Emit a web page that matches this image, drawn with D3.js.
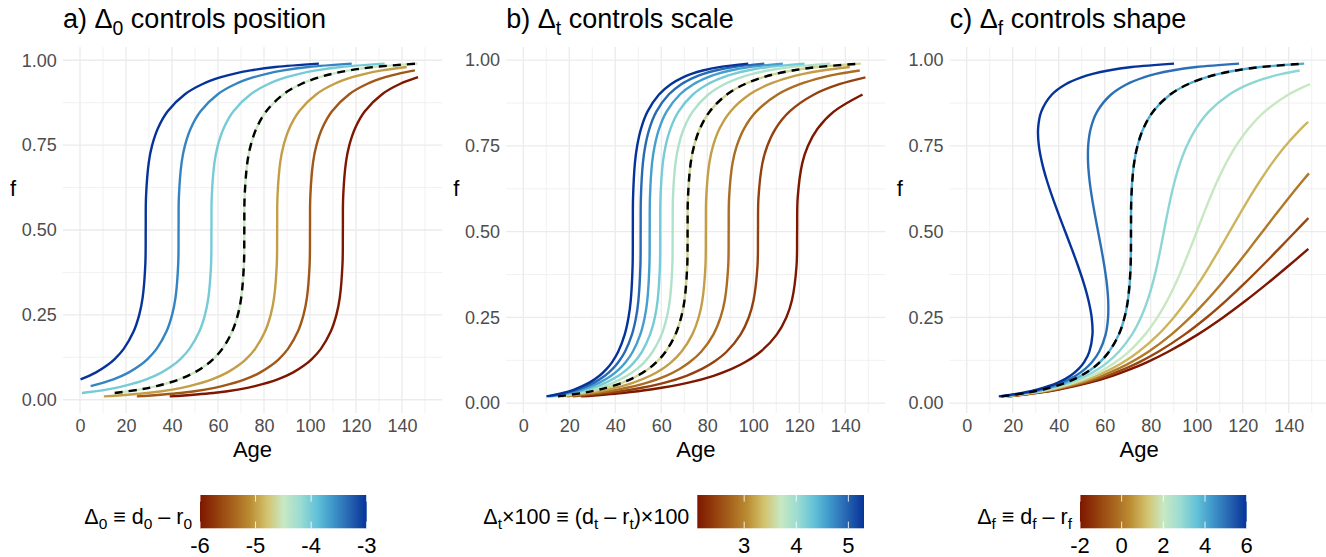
<!DOCTYPE html>
<html><head><meta charset="utf-8">
<script src="https://cdn.jsdelivr.net/npm/d3@7"></script>
<style>body{margin:0;background:#fff;} text{font-family: Arial, "Liberation Sans", sans-serif;}</style>
</head><body><svg id="c" width="1326" height="557"></svg>
<script>
// ---------------- DATA (age, f) ----------------
// Panel a: Δ0 values
const aValues = [-6, -5.5, -5, -4.5, -4, -3.5, -3];
const a_m60 = [[39.00,0.01],[57.95,0.02],[68.68,0.03],[76.06,0.04],[85.96,0.06],[92.51,0.08],[97.22,0.10],[100.79,0.12],[104.73,0.15],[108.96,0.20],[111.47,0.25],[112.94,0.30],[114.13,0.40],[114.29,0.50],[114.44,0.60],[115.64,0.70],[117.10,0.75],[119.61,0.80],[123.85,0.85],[131.35,0.90],[139.05,0.93],[146.98,0.95]];
const a_m55 = [[24.71,0.01],[43.66,0.02],[54.39,0.03],[61.77,0.04],[71.67,0.06],[78.22,0.08],[82.93,0.10],[86.50,0.12],[90.44,0.15],[94.67,0.20],[97.18,0.25],[98.65,0.30],[99.84,0.40],[100.00,0.50],[100.15,0.60],[101.35,0.70],[102.81,0.75],[105.32,0.80],[109.56,0.85],[117.06,0.90],[124.76,0.93],[132.69,0.95],[138.23,0.96],[145.60,0.97]];
const a_m50 = [[10.43,0.01],[29.38,0.02],[40.11,0.03],[47.49,0.04],[57.39,0.06],[63.94,0.08],[68.65,0.10],[72.22,0.12],[76.16,0.15],[80.39,0.20],[82.90,0.25],[84.37,0.30],[85.56,0.40],[85.72,0.50],[85.87,0.60],[87.07,0.70],[88.53,0.75],[91.04,0.80],[95.28,0.85],[102.78,0.90],[110.48,0.93],[118.41,0.95],[123.95,0.96],[131.32,0.97],[142.05,0.98]];
const a_m45 = [[15.09,0.02],[25.82,0.03],[33.20,0.04],[43.10,0.06],[49.65,0.08],[54.36,0.10],[57.93,0.12],[61.87,0.15],[66.10,0.20],[68.61,0.25],[70.08,0.30],[71.27,0.40],[71.43,0.50],[71.58,0.60],[72.78,0.70],[74.24,0.75],[76.75,0.80],[80.99,0.85],[88.49,0.90],[96.19,0.93],[104.12,0.95],[109.66,0.96],[117.03,0.97],[127.76,0.98],[146.72,0.99]];
const a_m40 = [[0.81,0.02],[11.54,0.03],[18.92,0.04],[28.82,0.06],[35.37,0.08],[40.08,0.10],[43.65,0.12],[47.59,0.15],[51.82,0.20],[54.33,0.25],[55.80,0.30],[56.99,0.40],[57.15,0.50],[57.30,0.60],[58.50,0.70],[59.96,0.75],[62.47,0.80],[66.71,0.85],[74.21,0.90],[81.91,0.93],[89.84,0.95],[95.38,0.96],[102.75,0.97],[113.48,0.98],[132.44,0.99]];
const a_m35 = [[4.63,0.04],[14.53,0.06],[21.08,0.08],[25.79,0.10],[29.36,0.12],[33.30,0.15],[37.53,0.20],[40.04,0.25],[41.51,0.30],[42.70,0.40],[42.86,0.50],[43.01,0.60],[44.21,0.70],[45.67,0.75],[48.18,0.80],[52.42,0.85],[59.92,0.90],[67.62,0.93],[75.55,0.95],[81.09,0.96],[88.46,0.97],[99.19,0.98],[118.15,0.99]];
const a_m30 = [[0.24,0.06],[6.79,0.08],[11.50,0.10],[15.07,0.12],[19.01,0.15],[23.24,0.20],[25.75,0.25],[27.22,0.30],[28.41,0.40],[28.57,0.50],[28.72,0.60],[29.92,0.70],[31.38,0.75],[33.89,0.80],[38.13,0.85],[45.63,0.90],[53.33,0.93],[61.26,0.95],[66.80,0.96],[74.17,0.97],[84.90,0.98],[103.86,0.99]];

// Reference curve (dashed) shared by all panels
const refCurve = [[15.09,0.02],[25.83,0.03],[33.20,0.04],[43.10,0.06],[49.65,0.08],[54.37,0.10],[57.93,0.12],[61.87,0.15],[66.11,0.20],[68.61,0.25],[70.08,0.30],[71.27,0.40],[71.43,0.50],[71.59,0.60],[72.78,0.70],[74.25,0.75],[76.75,0.80],[80.99,0.85],[88.49,0.90],[96.19,0.93],[104.13,0.95],[109.66,0.96],[117.03,0.97],[127.77,0.98],[146.72,0.99]];

// Panel b: Δt×100 values
const bValues = [2.1, 2.45, 2.8, 3.15, 3.5, 3.85, 4.2, 4.55, 4.9, 5.25];
const b_210 = [[25.15,0.02],[43.04,0.03],[55.33,0.04],[71.83,0.06],[82.75,0.08],[90.61,0.10],[96.55,0.12],[103.11,0.15],[110.18,0.20],[114.35,0.25],[116.80,0.30],[118.79,0.40],[119.05,0.50],[119.31,0.60],[121.30,0.70],[123.74,0.75],[127.92,0.80],[134.98,0.85],[147.49,0.90]];
const b_245 = [[21.56,0.02],[36.89,0.03],[47.42,0.04],[61.57,0.06],[70.93,0.08],[77.67,0.10],[82.76,0.12],[88.38,0.15],[94.44,0.20],[98.02,0.25],[100.11,0.30],[101.82,0.40],[102.04,0.50],[102.26,0.60],[103.97,0.70],[106.07,0.75],[109.64,0.80],[115.70,0.85],[126.42,0.90],[137.42,0.93],[148.75,0.95]];
const b_280 = [[18.86,0.02],[32.28,0.03],[41.50,0.04],[53.87,0.06],[62.06,0.08],[67.96,0.10],[72.41,0.12],[77.34,0.15],[82.63,0.20],[85.76,0.25],[87.60,0.30],[89.09,0.40],[89.29,0.50],[89.48,0.60],[90.97,0.70],[92.81,0.75],[95.94,0.80],[101.24,0.85],[110.61,0.90],[120.24,0.93],[130.16,0.95],[137.07,0.96],[146.29,0.97]];
const b_315 = [[16.77,0.02],[28.70,0.03],[36.89,0.04],[47.89,0.06],[55.17,0.08],[60.41,0.10],[64.37,0.12],[68.74,0.15],[73.45,0.20],[76.24,0.25],[77.86,0.30],[79.19,0.40],[79.37,0.50],[79.54,0.60],[80.87,0.70],[82.50,0.75],[85.28,0.80],[89.99,0.85],[98.32,0.90],[106.88,0.93],[115.70,0.95],[121.84,0.96],[130.04,0.97],[141.96,0.98]];
const b_350 = [[15.09,0.02],[25.82,0.03],[33.20,0.04],[43.10,0.06],[49.65,0.08],[54.36,0.10],[57.93,0.12],[61.87,0.15],[66.10,0.20],[68.61,0.25],[70.08,0.30],[71.27,0.40],[71.43,0.50],[71.58,0.60],[72.78,0.70],[74.24,0.75],[76.75,0.80],[80.99,0.85],[88.49,0.90],[96.19,0.93],[104.12,0.95],[109.66,0.96],[117.03,0.97],[127.76,0.98],[146.72,0.99]];
const b_385 = [[13.72,0.02],[23.48,0.03],[30.18,0.04],[39.18,0.06],[45.13,0.08],[49.42,0.10],[52.67,0.12],[56.24,0.15],[60.10,0.20],[62.37,0.25],[63.71,0.30],[64.79,0.40],[64.94,0.50],[65.08,0.60],[66.16,0.70],[67.50,0.75],[69.77,0.80],[73.63,0.85],[80.45,0.90],[87.45,0.93],[94.66,0.95],[99.69,0.96],[106.39,0.97],[116.15,0.98],[133.38,0.99]];
const b_420 = [[12.58,0.02],[21.52,0.03],[27.66,0.04],[35.92,0.06],[41.37,0.08],[45.31,0.10],[48.28,0.12],[51.56,0.15],[55.09,0.20],[57.18,0.25],[58.40,0.30],[59.39,0.40],[59.52,0.50],[59.65,0.60],[60.65,0.70],[61.87,0.75],[63.96,0.80],[67.49,0.85],[73.74,0.90],[80.16,0.93],[86.77,0.95],[91.38,0.96],[97.53,0.97],[106.47,0.98],[122.27,0.99]];
const b_455 = [[11.61,0.02],[19.87,0.03],[25.54,0.04],[33.15,0.06],[38.19,0.08],[41.82,0.10],[44.56,0.12],[47.59,0.15],[50.85,0.20],[52.78,0.25],[53.91,0.30],[54.82,0.40],[54.95,0.50],[55.07,0.60],[55.98,0.70],[57.11,0.75],[59.04,0.80],[62.30,0.85],[68.07,0.90],[73.99,0.93],[80.10,0.95],[84.35,0.96],[90.02,0.97],[98.28,0.98],[112.86,0.99]];
const b_490 = [[10.78,0.02],[18.45,0.03],[23.71,0.04],[30.79,0.06],[35.46,0.08],[38.83,0.10],[41.38,0.12],[44.19,0.15],[47.22,0.20],[49.01,0.25],[50.05,0.30],[50.91,0.40],[51.02,0.50],[51.13,0.60],[51.99,0.70],[53.03,0.75],[54.82,0.80],[57.85,0.85],[63.21,0.90],[68.71,0.93],[74.38,0.95],[78.33,0.96],[83.59,0.97],[91.26,0.98],[104.80,0.99]];
const b_525 = [[10.06,0.02],[17.22,0.03],[22.13,0.04],[28.73,0.06],[33.10,0.08],[36.24,0.10],[38.62,0.12],[41.25,0.15],[44.07,0.20],[45.74,0.25],[46.72,0.30],[47.52,0.40],[47.62,0.50],[47.72,0.60],[48.52,0.70],[49.50,0.75],[51.17,0.80],[53.99,0.85],[59.00,0.90],[64.13,0.93],[69.42,0.95],[73.11,0.96],[78.02,0.97],[85.18,0.98],[97.81,0.99]];

// Panel c: Δf values
const cValues = [-2, -1, 0, 1, 2, 3, 4, 5, 6];
const c_m2 = [[18.52,0.02],[30.97,0.03],[40.05,0.04],[53.39,0.06],[63.36,0.08],[71.51,0.10],[78.50,0.12],[87.58,0.15],[100.39,0.20],[111.47,0.25],[121.51,0.30],[130.89,0.35],[139.84,0.40],[148.55,0.45]];
const c_m1 = [[17.95,0.02],[30.11,0.03],[38.91,0.04],[51.67,0.06],[61.08,0.08],[68.65,0.10],[75.07,0.12],[83.30,0.15],[94.68,0.20],[104.33,0.25],[112.93,0.30],[120.89,0.35],[128.41,0.40],[135.69,0.45],[142.86,0.50],[148.58,0.54]];
const c_p0 = [[17.38,0.02],[29.25,0.03],[37.77,0.04],[49.96,0.06],[58.79,0.08],[65.79,0.10],[71.65,0.12],[79.01,0.15],[88.96,0.20],[97.18,0.25],[104.36,0.30],[110.89,0.35],[116.99,0.40],[122.84,0.45],[128.57,0.50],[134.31,0.55],[140.16,0.60],[146.26,0.65],[148.81,0.67]];
const c_p1 = [[16.81,0.02],[28.40,0.03],[36.63,0.04],[48.24,0.06],[56.51,0.08],[62.94,0.10],[68.22,0.12],[74.73,0.15],[83.25,0.20],[90.04,0.25],[95.79,0.30],[100.89,0.35],[105.56,0.40],[109.98,0.45],[114.29,0.50],[118.59,0.55],[123.01,0.60],[127.69,0.65],[132.78,0.70],[138.53,0.75],[145.32,0.80],[148.47,0.82]];
const c_p2 = [[16.23,0.02],[27.54,0.03],[35.48,0.04],[46.53,0.06],[54.22,0.08],[60.08,0.10],[64.79,0.12],[70.44,0.15],[77.53,0.20],[82.90,0.25],[87.22,0.30],[90.89,0.35],[94.13,0.40],[97.12,0.45],[100.00,0.50],[102.88,0.55],[105.87,0.60],[109.11,0.65],[112.78,0.70],[117.10,0.75],[122.47,0.80],[129.56,0.85],[139.92,0.90],[145.78,0.92],[149.33,0.93]];
const c_p3 = [[15.66,0.02],[26.68,0.03],[34.34,0.04],[44.81,0.06],[51.93,0.08],[57.22,0.10],[61.36,0.12],[66.15,0.15],[71.82,0.20],[75.75,0.25],[78.65,0.30],[80.89,0.35],[82.70,0.40],[84.27,0.45],[85.71,0.50],[87.16,0.55],[88.73,0.60],[90.54,0.65],[92.78,0.70],[95.67,0.75],[99.61,0.80],[105.27,0.85],[114.21,0.90],[122.76,0.93],[131.27,0.95],[137.09,0.96],[144.75,0.97]];
const c_p4 = [[15.09,0.02],[25.83,0.03],[33.20,0.04],[43.10,0.06],[49.65,0.08],[54.37,0.10],[57.93,0.12],[61.87,0.15],[66.11,0.20],[68.61,0.25],[70.08,0.30],[70.89,0.35],[71.27,0.40],[71.41,0.45],[71.43,0.50],[71.45,0.55],[71.59,0.60],[71.97,0.65],[72.78,0.70],[74.25,0.75],[76.75,0.80],[80.99,0.85],[88.49,0.90],[96.19,0.93],[104.13,0.95],[109.66,0.96],[117.03,0.97],[127.77,0.98],[146.72,0.99]];
const c_p5 = [[14.52,0.02],[24.97,0.03],[32.05,0.04],[41.39,0.06],[47.36,0.08],[51.51,0.10],[54.50,0.12],[57.58,0.15],[60.39,0.20],[61.47,0.25],[61.51,0.30],[60.89,0.35],[59.84,0.40],[58.55,0.45],[57.14,0.50],[55.73,0.55],[54.44,0.60],[53.40,0.65],[52.78,0.70],[52.82,0.75],[53.89,0.80],[56.70,0.85],[62.78,0.90],[69.62,0.93],[76.98,0.95],[82.23,0.96],[89.32,0.97],[99.77,0.98],[118.43,0.99]];
const c_p6 = [[13.95,0.02],[24.11,0.03],[30.91,0.04],[39.67,0.06],[45.08,0.08],[48.65,0.10],[51.07,0.12],[53.30,0.15],[54.68,0.20],[54.33,0.25],[52.93,0.30],[50.89,0.35],[48.41,0.40],[45.69,0.45],[42.86,0.50],[40.02,0.55],[37.30,0.60],[34.83,0.65],[32.78,0.70],[31.39,0.75],[31.04,0.80],[32.42,0.85],[37.06,0.90],[43.05,0.93],[49.84,0.95],[54.80,0.96],[61.60,0.97],[71.77,0.98],[90.15,0.99]];

// Tick labels
const xTicks = [0, 20, 40, 60, 80, 100, 120, 140];
const yTicks = [0, 0.25, 0.5, 0.75, 1];
const yTickLabels = ["0.00", "0.25", "0.50", "0.75", "1.00"];
const legendTicksA = [-6, -5, -4, -3];
const legendTicksB = [3, 4, 5];
const legendTicksC = [-2, 0, 2, 4, 6];

// ---------------- STYLE ----------------
const palette = ["#7e1700","#933d0d","#a7641d","#bb8c33","#d3c26c","#c8e8c2","#9cdcd2","#63c2d8","#3d95c9","#2563b0","#063399"];
const palScale = d3.scaleLinear().domain(d3.range(11).map(i => i/10)).range(palette).interpolate(d3.interpolateRgb);

const svg = d3.select("#c");
const gridCol = "#ebebeb";
const FONT = "Arial, 'Liberation Sans', sans-serif";

function rich(sel, parts, size) {
  let shifted = false;
  parts.forEach(p => {
    const t = sel.append("tspan").text(p.t);
    if (p.sub) {
      t.attr("font-size", size*0.72).attr("dy", size*0.25);
      shifted = true;
    } else {
      t.attr("font-size", size);
      if (shifted) { t.attr("dy", -size*0.25); shifted = false; }
    }
  });
}

const panels = [
  { off: 0, yDom: [-0.039, 1.039], values: aValues, curves: [a_m60,a_m55,a_m50,a_m45,a_m40,a_m35,a_m30], cDom: [-6,-3],
    title: [{t:"a) Δ"},{t:"0",sub:true},{t:" controls position"}],
    leg: { bar0: 200, title: [{t:"Δ"},{t:"0",sub:true},{t:" ≡ d"},{t:"0",sub:true},{t:" – r"},{t:"0",sub:true}], ticks: legendTicksA, dom: [-6,-3] } },
  { off: 443.3, yDom: [-0.0285, 1.0385], values: bValues, curves: [b_210,b_245,b_280,b_315,b_350,b_385,b_420,b_455,b_490,b_525], cDom: [2.1,5.25],
    title: [{t:"b) Δ"},{t:"t",sub:true},{t:" controls scale"}],
    leg: { bar0: 697.3, title: [{t:"Δ"},{t:"t",sub:true},{t:"×100 ≡ (d"},{t:"t",sub:true},{t:" – r"},{t:"t",sub:true},{t:")×100"}], ticks: legendTicksB, dom: [2.1,5.3] } },
  { off: 886.7, yDom: [-0.0285, 1.0385], values: cValues, curves: [c_m2,c_m1,c_p0,c_p1,c_p2,c_p3,c_p4,c_p5,c_p6], cDom: [-2,6],
    title: [{t:"c) Δ"},{t:"f",sub:true},{t:" controls shape"}],
    leg: { bar0: 1080, title: [{t:"Δ"},{t:"f",sub:true},{t:" ≡ d"},{t:"f",sub:true},{t:" – r"},{t:"f",sub:true}], ticks: legendTicksC, dom: [-2,6] } }
];

const defs = svg.append("defs");

panels.forEach((P, pi) => {
  const x = d3.scaleLinear().domain([-7.5, 157.5]).range([62.75 + P.off, 442.25 + P.off]);
  const y = d3.scaleLinear().domain(P.yDom).range([413, 47]);
  const g = svg.append("g");

  // minor grid
  const xMinor = d3.range(10, 151, 20);
  const yMinor = [0.125, 0.375, 0.625, 0.875];
  g.selectAll(null).data(xMinor).join("line")
    .attr("x1", d => x(d)).attr("x2", d => x(d)).attr("y1", 47).attr("y2", 413)
    .attr("stroke", gridCol).attr("stroke-width", 0.7);
  g.selectAll(null).data(yMinor).join("line")
    .attr("x1", x.range()[0]).attr("x2", x.range()[1]).attr("y1", d => y(d)).attr("y2", d => y(d))
    .attr("stroke", gridCol).attr("stroke-width", 0.7);
  // major grid
  g.selectAll(null).data(xTicks).join("line")
    .attr("x1", d => x(d)).attr("x2", d => x(d)).attr("y1", 47).attr("y2", 413)
    .attr("stroke", gridCol).attr("stroke-width", 1.3);
  g.selectAll(null).data(yTicks).join("line")
    .attr("x1", x.range()[0]).attr("x2", x.range()[1]).attr("y1", d => y(d)).attr("y2", d => y(d))
    .attr("stroke", gridCol).attr("stroke-width", 1.3);

  // axes
  const xa = g.append("g").attr("transform", "translate(0,413)")
    .call(d3.axisBottom(x).tickValues(xTicks).tickSize(0).tickPadding(6));
  xa.select(".domain").remove();
  xa.selectAll("text").attr("font-size", 18).attr("fill", "#4d4d4d").attr("font-family", FONT);
  const ya = g.append("g").attr("transform", `translate(${x.range()[0]},0)`)
    .call(d3.axisLeft(y).tickValues(yTicks).tickFormat((d,i) => yTickLabels[i]).tickSize(0).tickPadding(6));
  ya.select(".domain").remove();
  ya.selectAll("text").attr("font-size", 18).attr("fill", "#4d4d4d").attr("font-family", FONT);

  // axis titles
  g.append("text").attr("x", (x.range()[0] + x.range()[1]) / 2).attr("y", 457)
    .attr("text-anchor", "middle").attr("font-size", 22).text("Age");
  g.append("text").attr("x", 13 + P.off).attr("y", 196)
    .attr("text-anchor", "middle").attr("font-size", 22).text("f");

  // title
  const tt = g.append("text").attr("x", 63 + P.off).attr("y", 28);
  rich(tt, P.title, 27);

  // curves
  const cs = d3.scaleLinear().domain(P.cDom).range([0, 1]);
  const line = d3.line().x(d => x(d[0])).y(d => y(d[1])).curve(d3.curveCatmullRom.alpha(0.5));
  P.curves.forEach((c, i) => {
    g.append("path").attr("d", line(c)).attr("fill", "none")
      .attr("stroke", palScale(cs(P.values[i]))).attr("stroke-width", 2.4)
      .attr("stroke-linecap", "butt").attr("stroke-linejoin", "round");
  });
  g.append("path").attr("d", line(refCurve)).attr("fill", "none")
    .attr("stroke", "#000").attr("stroke-width", 2.4).attr("stroke-dasharray", "8,6");

  // legend
  const L = P.leg;
  const bw = 166.7, by = 495, bh = 33.3;
  const gid = "grad" + pi;
  const grad = defs.append("linearGradient").attr("id", gid).attr("x1", "0%").attr("x2", "100%").attr("y1", "0%").attr("y2", "0%");
  d3.range(0, 1.0001, 0.02).forEach(t => {
    grad.append("stop").attr("offset", (t*100) + "%").attr("stop-color", palScale(t));
  });
  g.append("rect").attr("x", L.bar0).attr("y", by).attr("width", bw).attr("height", bh).attr("fill", `url(#${gid})`);
  const ls = d3.scaleLinear().domain(L.dom).range([L.bar0, L.bar0 + bw]);
  L.ticks.forEach(v => {
    const xx = ls(v);
    g.append("line").attr("x1", xx).attr("x2", xx).attr("y1", by).attr("y2", by + bh/5)
      .attr("stroke", "#fff").attr("stroke-opacity", 0.85).attr("stroke-width", 1);
    g.append("line").attr("x1", xx).attr("x2", xx).attr("y1", by + bh - bh/5).attr("y2", by + bh)
      .attr("stroke", "#fff").attr("stroke-opacity", 0.85).attr("stroke-width", 1);
    g.append("text").attr("x", xx).attr("y", 553).attr("text-anchor", "middle").attr("font-size", 22).text(String(v));
  });
  const lt = g.append("text").attr("x", L.bar0 - 8).attr("y", 524).attr("text-anchor", "end");
  rich(lt, L.title, 21.5);
});
</script>
</body></html>
